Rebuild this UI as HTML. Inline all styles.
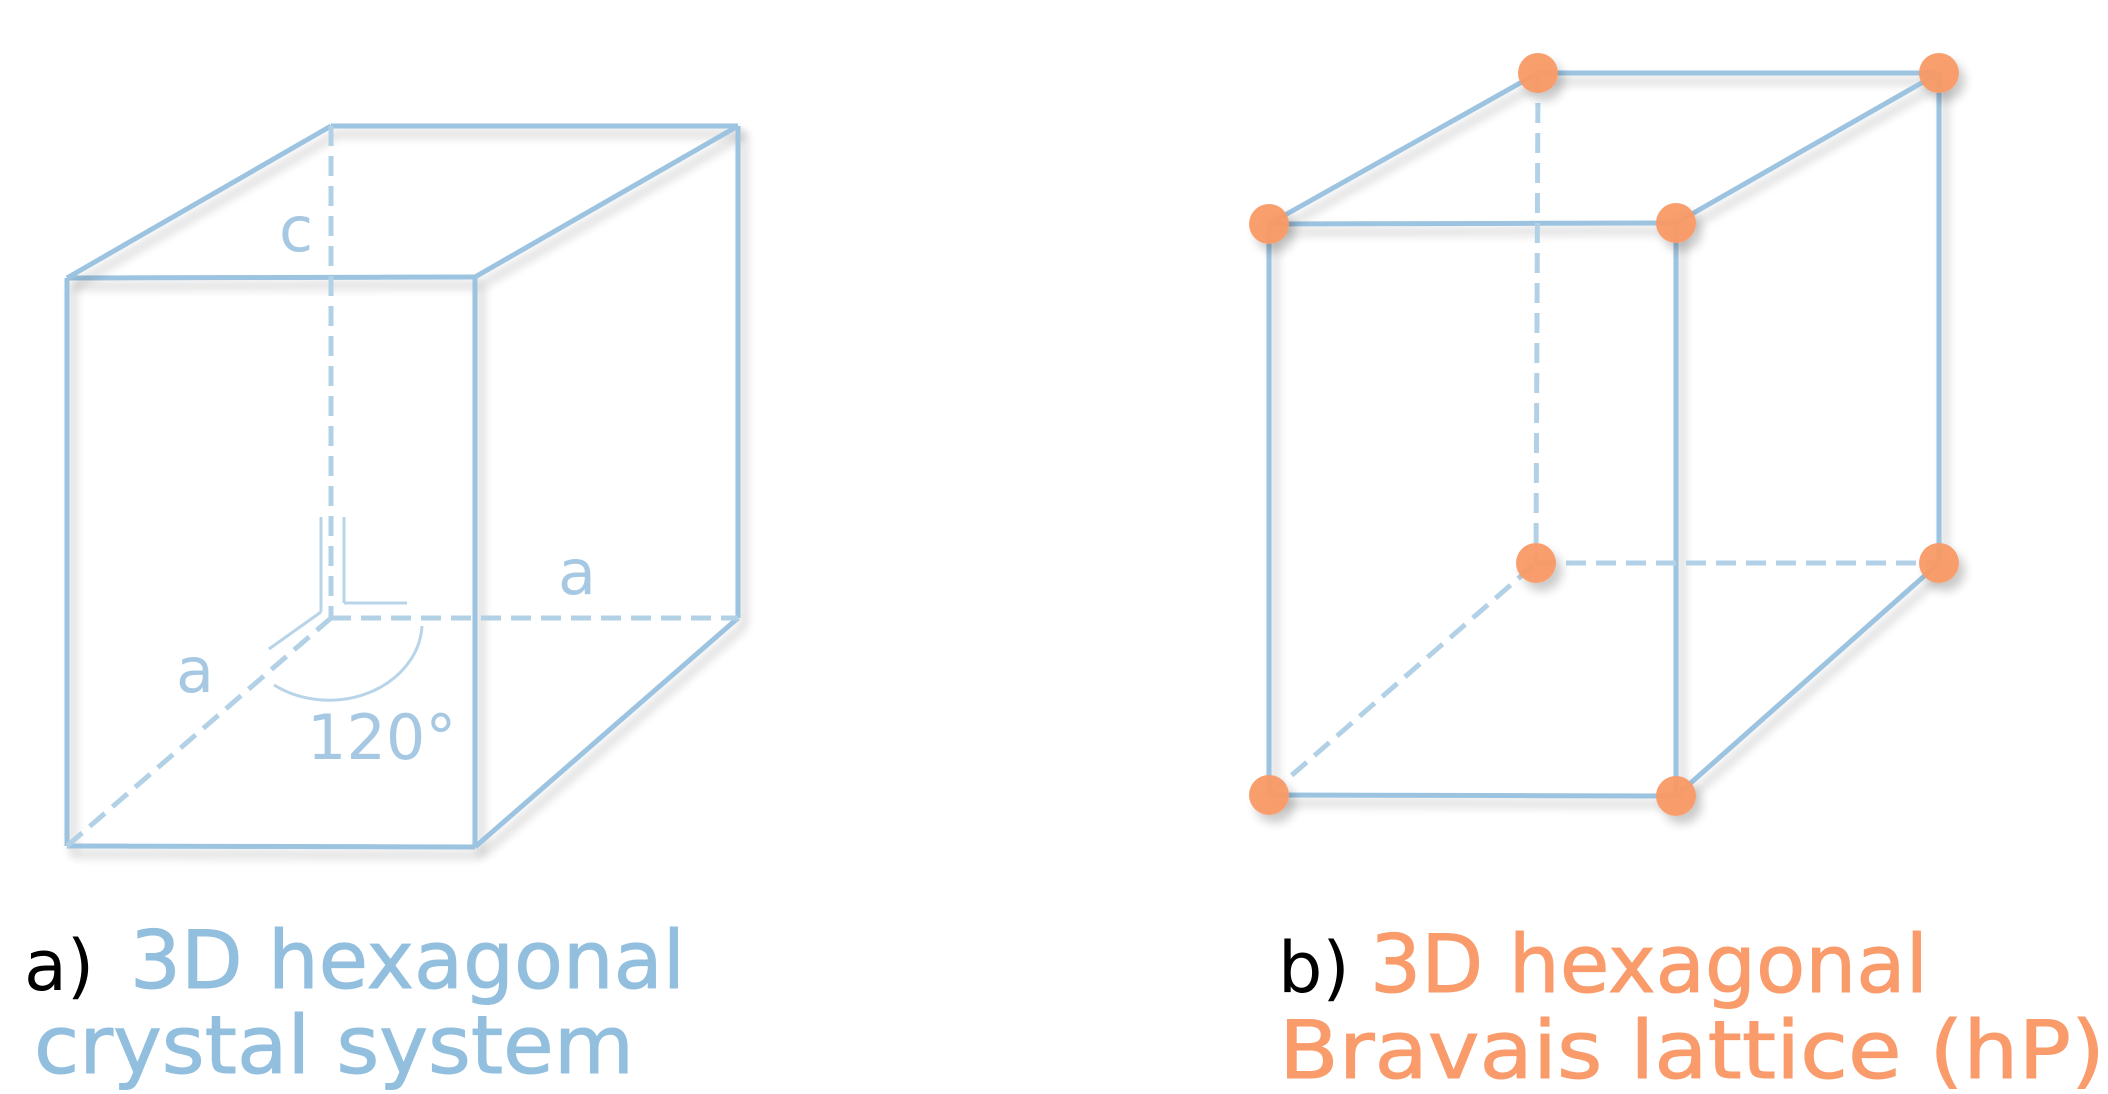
<!DOCTYPE html>
<html><head><meta charset="utf-8"><style>
html,body{margin:0;padding:0;background:#fff;}
svg{display:block;}
</style></head><body>
<svg id="fig" width="2108" height="1094" viewBox="0 0 2108 1094" xmlns="http://www.w3.org/2000/svg">
<defs>
<filter id="sh" filterUnits="userSpaceOnUse" x="0" y="0" width="2108" height="1094">
<feGaussianBlur in="SourceAlpha" stdDeviation="5"/>
<feOffset dx="6" dy="8" result="b"/>
<feComponentTransfer><feFuncA type="linear" slope="0.22"/></feComponentTransfer>
<feMerge><feMergeNode/><feMergeNode in="SourceGraphic"/></feMerge>
</filter>
</defs>
<g id="left"></g>
<g id="right"></g>

<g stroke="#b8d4e8" fill="none" stroke-width="3">
<path d="M422 626 A93 78 0 0 1 274 685"/>
<line x1="321" y1="517" x2="321" y2="612"/>
<line x1="344" y1="517" x2="344" y2="603"/>
<line x1="344" y1="603" x2="407" y2="603"/>
<line x1="321" y1="612" x2="269" y2="649"/>
</g>
<g font-family="DejaVu Sans, sans-serif" fill="#a6c8e2">
<text x="296" y="251" font-size="62" text-anchor="middle">c</text>
<text x="577" y="594" font-size="62" text-anchor="middle">a</text>
<text x="195" y="692" font-size="62" text-anchor="middle">a</text>
<text x="307" y="759" font-size="62">120°</text>
</g>

<g font-family="DejaVu Sans, sans-serif" font-size="70" fill="#000">
<text x="24" y="990">a)</text>
<text x="1278" y="992">b)</text>
</g>
<g font-family="DejaVu Sans, sans-serif" font-size="80" fill="#93bfdf" stroke="#93bfdf" stroke-width="1">
<text x="130" y="988" textLength="555" lengthAdjust="spacingAndGlyphs">3D hexagonal</text>
<text x="34" y="1073" textLength="600" lengthAdjust="spacingAndGlyphs">crystal system</text>
</g>
<g font-family="DejaVu Sans, sans-serif" font-size="80" fill="#f99b6a" stroke="#f99b6a" stroke-width="1">
<text x="1370" y="992" textLength="558" lengthAdjust="spacingAndGlyphs">3D hexagonal</text>
<text x="1279" y="1078" textLength="826" lengthAdjust="spacingAndGlyphs">Bravais lattice (hP)</text>
</g>
</svg>
<script>
// cube vertex coordinates: front-top-left, front-top-right, back-top-left, back-top-right, front-bottom-left, front-bottom-right, back-bottom-left, back-bottom-right
const leftXs = [67, 475, 331, 738, 67, 475, 331, 738];
const leftYs = [278, 277, 126, 126, 846, 847, 618, 618];
const rightXs = [1269, 1676, 1538, 1939, 1269, 1676, 1536, 1939];
const rightYs = [224, 223, 73, 73, 795, 796, 563, 563];
// edges [from, to, dashed]
const edgesFrom = [0, 0, 2, 1, 0, 1, 3, 4, 5, 4, 6, 2];
const edgesTo   = [1, 2, 3, 3, 4, 5, 7, 5, 7, 6, 7, 6];
const edgesDash = [0, 0, 0, 0, 0, 0, 0, 0, 0, 1, 1, 1];
const NS = 'http://www.w3.org/2000/svg';
function drawCube(gid, xs, ys, dots) {
  const g = document.getElementById(gid);
  for (let i = 0; i < edgesFrom.length; i++) {
    const l = document.createElementNS(NS, 'line');
    
    
    l.setAttribute('x1', xs[edgesFrom[i]]); l.setAttribute('y1', ys[edgesFrom[i]]);
    l.setAttribute('x2', xs[edgesTo[i]]); l.setAttribute('y2', ys[edgesTo[i]]);
    l.setAttribute('stroke', edgesDash[i] ? '#b3d1e6' : '#9cc3e0');
    l.setAttribute('stroke-width', '5');
    if (edgesDash[i]) l.setAttribute('stroke-dasharray', '20 10');
    else l.setAttribute('filter', 'url(#sh)');
    g.appendChild(l);
  }
  if (dots) {
    for (let i = 0; i < xs.length; i++) {
      const c = document.createElementNS(NS, 'circle');
      
      
      c.setAttribute('cx', xs[i]); c.setAttribute('cy', ys[i]); c.setAttribute('r', 20);
      c.setAttribute('fill', '#f99a66');
      c.setAttribute('fill-opacity', '0.95');
      c.setAttribute('filter', 'url(#sh)');
      g.appendChild(c);
    }
  }
}
drawCube('left', leftXs, leftYs, false);
drawCube('right', rightXs, rightYs, true);
</script>
</body></html>
